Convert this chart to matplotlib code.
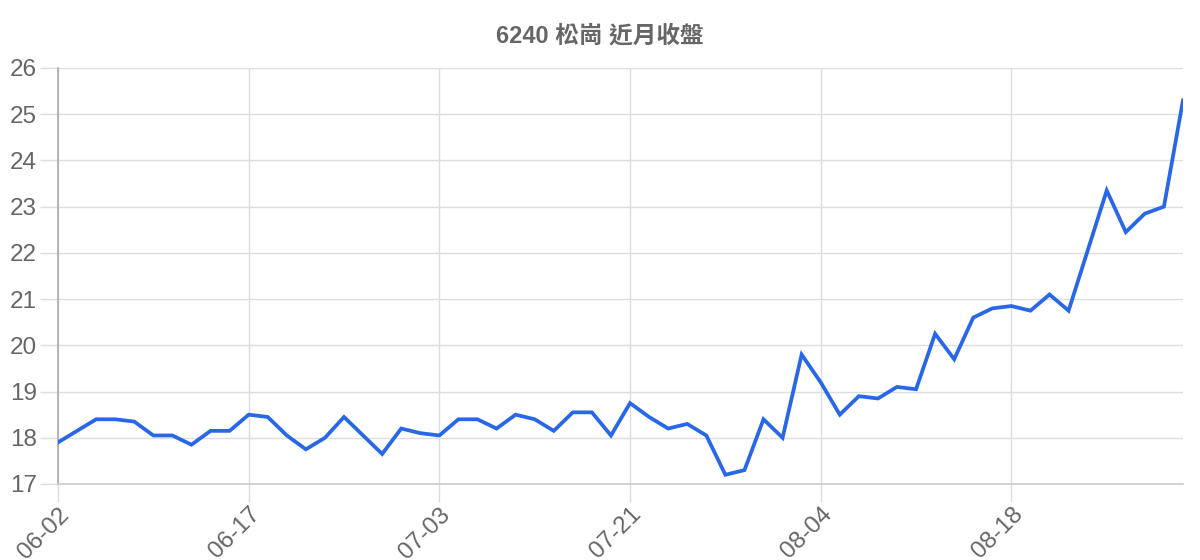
import matplotlib.pyplot as plt

# closing prices, one per trading day
dates = [
    "06-02", "06-03", "06-04", "06-05", "06-06", "06-09", "06-10", "06-11", "06-12", "06-13",
    "06-17", "06-18", "06-19", "06-20", "06-23", "06-24", "06-25", "06-26", "06-27", "06-30",
    "07-03", "07-04", "07-07", "07-08", "07-09", "07-10", "07-14", "07-15", "07-16", "07-17",
    "07-21", "07-22", "07-23", "07-24", "07-25", "07-28", "07-29", "07-30", "07-31", "08-01",
    "08-04", "08-05", "08-06", "08-07", "08-08", "08-11", "08-12", "08-13", "08-14", "08-15",
    "08-18", "08-19", "08-20", "08-21", "08-22", "08-25", "08-26", "08-27", "08-28", "08-29",
]
close = [
    17.9, 18.15, 18.4, 18.4, 18.35, 18.05, 18.05, 17.85, 18.15, 18.15,
    18.5, 18.45, 18.05, 17.75, 18.0, 18.45, 18.05, 17.65, 18.2, 18.1,
    18.05, 18.4, 18.4, 18.2, 18.5, 18.4, 18.15, 18.55, 18.55, 18.05,
    18.75, 18.45, 18.2, 18.3, 18.05, 17.2, 17.3, 18.4, 18.0, 19.8,
    19.2, 18.5, 18.9, 18.85, 19.1, 19.05, 20.25, 19.7, 20.6, 20.8,
    20.85, 20.75, 21.1, 20.75, 22.05, 23.35, 22.45, 22.85, 23.0, 25.3,
]
title = "6240 松崗 近月收盤"

plt.rcParams['font.family'] = ['Liberation Sans', 'Noto Sans CJK TC', 'DejaVu Sans']

fig = plt.figure(figsize=(12, 5.6), dpi=100)
ax = fig.add_axes([58 / 1200, 1 - 484 / 560, 1125 / 1200, 416 / 560])

x = list(range(len(close)))
ax.plot(x, close, color='#2867e8', linewidth=2.7, solid_joinstyle='miter', zorder=3)

ax.set_xlim(0, len(close) - 1)
ax.set_ylim(17, 26)
ax.set_yticks(range(17, 27))
tick_idx = list(range(0, len(close), 10))
ax.set_xticks(tick_idx)
ax.set_xticklabels([dates[i] for i in tick_idx], rotation=45, ha='right',
                   rotation_mode='anchor')

ax.grid(True, color='#dddddd', linewidth=1)
ax.set_axisbelow(True)
ax.tick_params(axis='both', colors='#dddddd', length=13, width=1,
               labelcolor='#666666', labelsize=17.5, pad=2)
ax.tick_params(axis='x', pad=1)

for side in ['top', 'right']:
    ax.spines[side].set_visible(False)
ax.spines['left'].set_color('#aaaaaa')
ax.spines['bottom'].set_color('#cccccc')
ax.spines['left'].set_linewidth(1.2)
ax.spines['bottom'].set_linewidth(1.2)

fig.text(600 / 1200, 1 - 36 / 560, title, ha='center', va='center',
         fontsize=17, fontweight='bold', color='#666666')

fig.savefig('out.png', dpi=100)
